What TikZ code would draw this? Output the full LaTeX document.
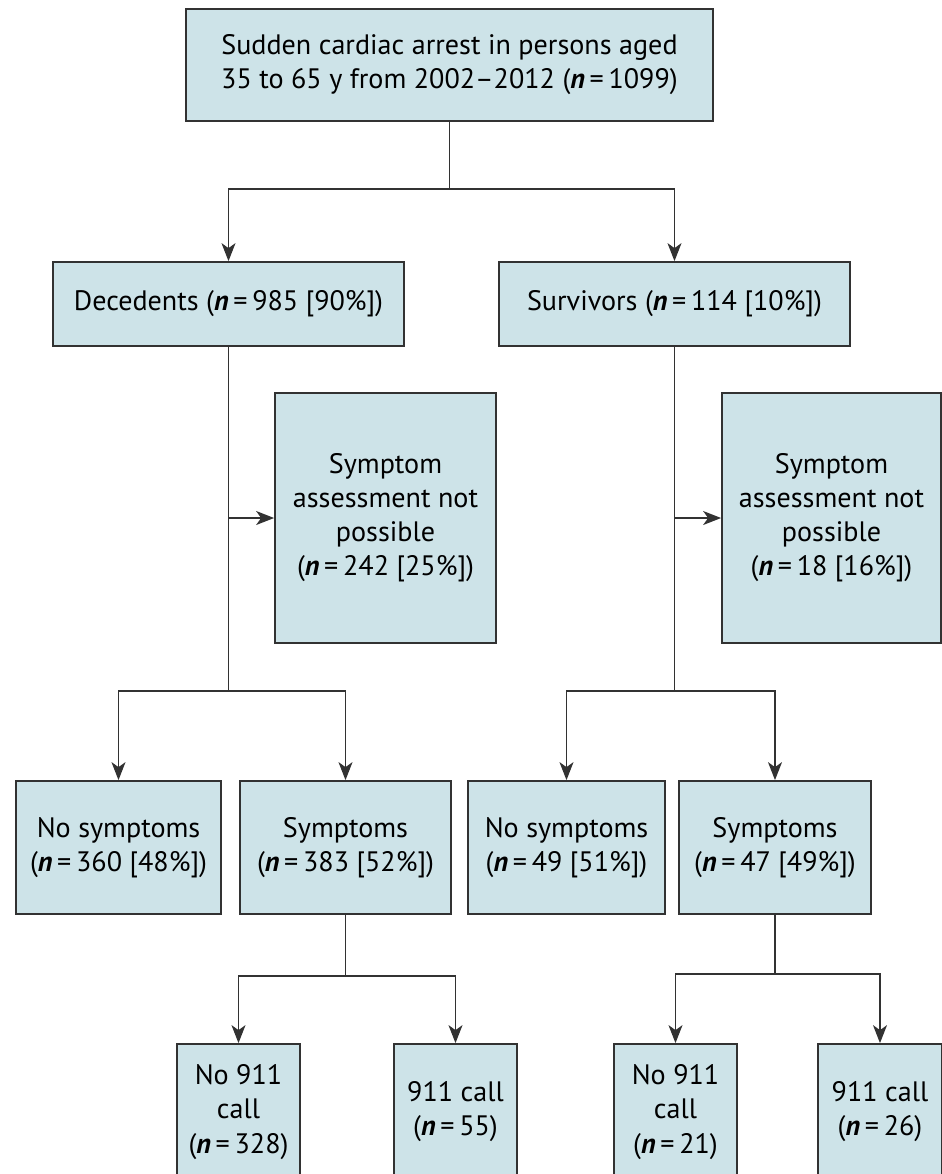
\documentclass[tikz,border=0pt]{standalone}
\usepackage{fontspec}
\setmainfont{PT Sans}
\usetikzlibrary{arrows.meta}
\definecolor{boxfill}{RGB}{205,227,232}
\definecolor{boxline}{RGB}{50,50,50}
\newcommand{\nis}{{\bfseries\itshape n}\,=\,}
\tikzset{
	box/.style={draw=boxline,fill=boxfill,line width=0.5pt,align=center,inner sep=0pt,text=black,font=\fontsize{8}{9.7}\selectfont},
	link/.style={draw=boxline,line width=0.4pt},
	arr/.style={link,-{Stealth[length=1.8mm,width=1.4mm,inset=0.5mm]}}
}
\begin{document}
\begin{tikzpicture}
		\useasboundingbox (0,0) rectangle (9.42,-11.74);
		\clip (0,0) rectangle (9.42,-11.74);
		\node[box,minimum width=5.27cm,minimum height=1.12cm] (total) at (4.495,-0.65) {Sudden cardiac arrest in persons aged\\35 to 65 y from 2002--2012 (\nis1099)};
		\node[box,minimum width=3.51cm,minimum height=0.84cm] (dec) at (2.285,-3.04) {Decedents (\nis985 [90\%])};
		\node[box,minimum width=3.51cm,minimum height=0.84cm] (surv) at (6.745,-3.04) {Survivors (\nis114 [10\%])};
		\node[box,minimum width=2.21cm,minimum height=2.50cm] (decna) at (3.855,-5.18) {Symptom\\assessment not\\possible\\(\nis242 [25\%])};
		\node[box,minimum width=2.19cm,minimum height=2.50cm] (survna) at (8.315,-5.18) {Symptom\\assessment not\\possible\\(\nis18 [16\%])};
		\node[box,minimum width=2.05cm,minimum height=1.33cm] (decnosym) at (1.185,-8.475) {No symptoms\\(\nis360 [48\%])};
		\node[box,minimum width=2.11cm,minimum height=1.33cm] (decsym) at (3.455,-8.475) {Symptoms\\(\nis383 [52\%])};
		\node[box,minimum width=1.97cm,minimum height=1.33cm] (survnosym) at (5.665,-8.475) {No symptoms\\(\nis49 [51\%])};
		\node[box,minimum width=1.92cm,minimum height=1.33cm] (survsym) at (7.75,-8.475) {Symptoms\\(\nis47 [49\%])};
		\node[box,minimum width=1.23cm,minimum height=1.36cm] (decnocall) at (2.385,-11.12) {No 911\\call\\(\nis328)};
		\node[box,minimum width=1.23cm,minimum height=1.36cm] (deccall) at (4.555,-11.12) {911 call\\(\nis55)};
		\node[box,minimum width=1.23cm,minimum height=1.36cm] (survnocall) at (6.755,-11.12) {No 911\\call\\(\nis21)};
		\node[box,minimum width=1.24cm,minimum height=1.36cm] (survcall) at (8.80,-11.12) {911 call\\(\nis26)};
		
		\coordinate (split) at (total.south |- 0,-1.89);
		\coordinate (decsplit) at (dec.south |- 0,-6.91);
		\coordinate (survsplit) at (surv.south |- 0,-6.91);
		\coordinate (decsymsplit) at (decsym.south |- 0,-9.76);
		\coordinate (survsymsplit) at (survsym.south |- 0,-9.74);
		
		\draw[link] (total.south) -- (split);
		\draw[arr] (split) -| (dec.north);
		\draw[arr] (split) -| (surv.north);
		
		\draw[link] (dec.south) -- (decsplit);
		\draw[arr] (dec.south |- decna.west) -- (decna.west);
		\draw[arr] (decsplit) -| (decnosym.north);
		\draw[arr] (decsplit) -| (decsym.north);
		
		\draw[link] (surv.south) -- (survsplit);
		\draw[arr] (surv.south |- survna.west) -- (survna.west);
		\draw[arr] (survsplit) -| (survnosym.north);
		\draw[arr] (survsplit) -| (survsym.north);
		
		\draw[link] (decsym.south) -- (decsymsplit);
		\draw[arr] (decsymsplit) -| (decnocall.north);
		\draw[arr] (decsymsplit) -| (deccall.north);
		
		\draw[link] (survsym.south) -- (survsymsplit);
		\draw[arr] (survsymsplit) -| (survnocall.north);
		\draw[arr] (survsymsplit) -| (survcall.north);
\end{tikzpicture}
\end{document}
